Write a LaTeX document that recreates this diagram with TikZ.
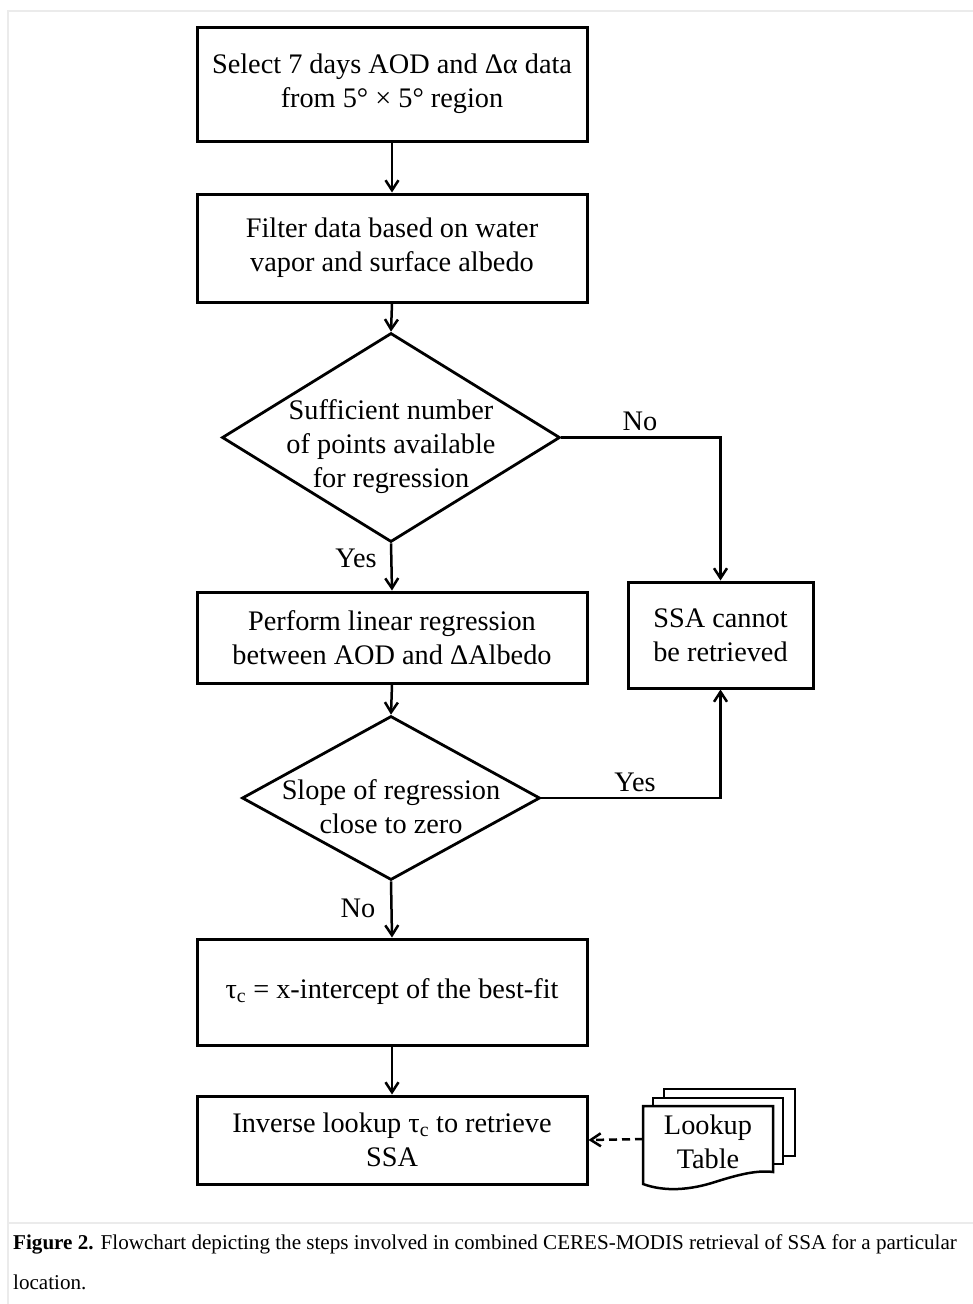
\documentclass[tikz,border=0pt]{standalone}
\usepackage{fontspec}
\setmainfont{Liberation Serif}
\usetikzlibrary{arrows.meta,shapes.geometric}
\begin{document}
\begin{tikzpicture}[x=1pt,y=-1pt,
  boxtext/.style={font=\fontsize{28.3}{34}\selectfont},
  proc/.style={draw,line width=3pt,minimum width=390pt,inner sep=0pt,align=center,boxtext},
  decide/.style={draw,diamond,line width=2.8pt,inner sep=0pt,aspect=1.6},
  conn/.style={line width=2.5pt,-{Straight Barb[length=10pt,width=13pt]}},
  lbl/.style={font=\fontsize{28.3}{34}\selectfont,inner sep=0pt},
  doc/.style={draw,line width=2.5pt,fill=white},
  frame/.style={draw=black!8,line width=2pt},
  captext/.style={anchor=base west,inner sep=0pt,font=\fontsize{21.1}{25}\selectfont}
]
\useasboundingbox (0,0) rectangle (973,1304);
% page frame
\draw[frame] (8,1304) -- (8,11) -- (973,11);
\draw[frame] (8,1223) -- (973,1223);

% process boxes
\node[proc,minimum height=114pt] (b1) at (392,84) {Select 7 days AOD and Δα data\\from 5° × 5° region};
\node[proc,minimum height=108pt] (b2) at (392,248) {Filter data based on water\\vapor and surface albedo};
\node[decide,minimum width=338pt,minimum height=209pt] (d1) at (391,437.5) {};
\node[boxtext,align=center,inner sep=0pt] (d1t) at (391,447) {Sufficient number\\of points available\\for regression};
\node[proc,minimum height=91pt] (b3) at (392,637.5) {Perform linear regression\\between AOD and ΔAlbedo};
\node[proc,minimum width=185pt,minimum height=106pt] (ssa) at (720.5,635) {SSA cannot\\be retrieved};
\node[decide,minimum width=298pt,minimum height=164pt] (d2) at (391,798) {};
\node[boxtext,align=center,inner sep=0pt] (d2t) at (391,807) {Slope of regression\\close to zero};
\node[proc,minimum height=106pt] (b4) at (392,992) {τ\textsubscript{c} = x-intercept of the best-fit};
\node[proc,minimum height=88pt] (b5) at (392,1140) {Inverse lookup τ\textsubscript{c} to retrieve\\SSA};

% lookup table (stacked documents)
\draw[doc] (664,1089) rectangle (795,1156);
\draw[doc] (653,1098) rectangle (783,1164);
\draw[doc] (643,1106) -- (773,1106) -- (773,1172)
  .. controls (758,1170) and (740,1174) .. (715,1182)
  .. controls (690,1190) and (665,1192) .. (643,1184) -- cycle;
\node[boxtext,align=center,inner sep=0pt] (lk) at (708,1142) {Lookup\\Table};
\coordinate (lkW) at (643,1139);

% connectors
\draw[conn] (b1.south) -- (b2.north);
\draw[conn] (b2.south) -- (d1.north);
\draw[conn] (d1.south) -- (b3.north);
\draw[conn] (d1.east) -| (ssa.north);
\draw[conn] (b3.south) -- (d2.north);
\draw[conn] (d2.east) -| (ssa.south);
\draw[conn] (d2.south) -- (b4.north);
\draw[conn] (b4.south) -- (b5.north);
\draw[conn,dash pattern=on 8pt off 5pt] (lkW) -- (b5.east);

% labels
\node[lbl] (l1) at (356,558) {Yes};
\node[lbl] (l2) at (640,421) {No};
\node[lbl] (l3) at (635,782) {Yes};
\node[lbl] (l4) at (358,908) {No};

% caption
\node[captext] (cap1) at (13,1249)
  {\textbf{Figure 2.} Flowchart depicting the steps involved in combined CERES-MODIS retrieval of SSA for a particular};
\node[captext] (cap2) at (13,1289) {location.};
\end{tikzpicture}
\end{document}
